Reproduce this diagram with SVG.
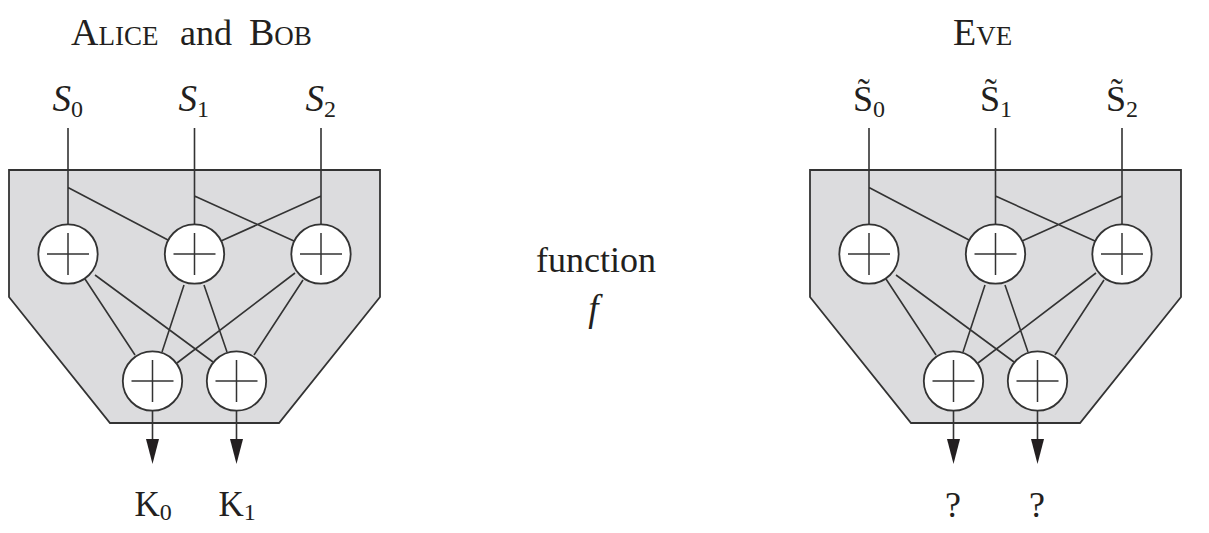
<svg xmlns="http://www.w3.org/2000/svg" width="1209" height="533" viewBox="0 0 1209 533">
<style>
text{font-family:"Liberation Serif","Times New Roman",serif;fill:#231f20;font-size:36px}
.sc{font-variant:small-caps;font-size:38px}
.s{font-style:italic;font-size:37px}
.u{font-size:36px}
.k{font-size:35px}
.sub{font-size:24px;font-style:normal}
.box{fill:#dcdcde;stroke:#333;stroke-width:1.8}
.ln{stroke:#333;stroke-width:1.6;fill:none}
.c{fill:#fff;stroke:#333;stroke-width:1.8}
.p{stroke:#333;stroke-width:1.5}
.h{fill:#231f20}
</style>
<defs>
<g id="xor"><circle class="c" r="29.7"/><path class="p" d="M-21 0H21M0-21V21"/></g>
<path id="head" class="h" d="M-6.500 0H6.500L0 25Z"/>
</defs>
<rect width="1209" height="533" fill="#fff"/>
<g id="title-left"><text class="sc" x="71" y="44.500">Alice</text><text x="180" y="44.500">and</text><text class="sc" x="249" y="44.500">Bob</text></g>
<g id="title-right"><text class="sc" x="953" y="44.500">Eve</text></g>
<g id="function-label"><text x="596" y="272" text-anchor="middle">function</text><text class="s" x="593.500" y="321" text-anchor="middle">f</text></g>

<g id="panel-left"><polygon class="box" points="9,170 380,170 380,297 279,423 110,423 9,297"/></g>
<g id="panel-right"><polygon class="box" points="810,170 1181,170 1181,297 1080,423 911,423 810,297"/></g>

<g id="connectors">
<path class="ln" d="M68 128V224M194.500 128V224M321 128V224M68 187.500L168 240M194.500 196L294 241M321 196L221 241"/>
<path class="ln" d="M85 279L135 355M95 275L213 362M184 285L162 352M204 285L227 352M295 273L177 363M303 280L254 355"/>
<path class="ln" d="M152.500 411V440M236.500 411V440"/>
<use href="#head" x="152.500" y="439"/><use href="#head" x="236.500" y="439"/>
<path class="ln" d="M869 128V224M995.500 128V224M1122 128V224M869 187.500L969 240M995.500 196L1095 241M1122 196L1022 241"/>
<path class="ln" d="M886 279L936 355M896 275L1014 362M985 285L963 352M1005 285L1028 352M1096 273L978 363M1104 280L1055 355"/>
<path class="ln" d="M953.500 411V440M1037.500 411V440"/>
<use href="#head" x="953.500" y="439"/><use href="#head" x="1037.500" y="439"/>
</g>

<g id="L-xor-a"><use href="#xor" x="68" y="254"/></g>
<g id="L-xor-b"><use href="#xor" x="194.500" y="254"/></g>
<g id="L-xor-c"><use href="#xor" x="321" y="254"/></g>
<g id="L-xor-d"><use href="#xor" x="152.500" y="381"/></g>
<g id="L-xor-e"><use href="#xor" x="236.500" y="381"/></g>
<g id="R-xor-a"><use href="#xor" x="869" y="254"/></g>
<g id="R-xor-b"><use href="#xor" x="995.500" y="254"/></g>
<g id="R-xor-c"><use href="#xor" x="1122" y="254"/></g>
<g id="R-xor-d"><use href="#xor" x="953.500" y="381"/></g>
<g id="R-xor-e"><use href="#xor" x="1037.500" y="381"/></g>

<g id="inputs-left">
<text class="s" x="52.500" y="111">S<tspan class="sub" dy="6">0</tspan></text>
<text class="s" x="178.500" y="111">S<tspan class="sub" dy="6">1</tspan></text>
<text class="s" x="305.500" y="111">S<tspan class="sub" dy="6">2</tspan></text>
</g>
<g id="inputs-right">
<text class="u" x="853" y="111">S̃<tspan class="sub" dy="6">0</tspan></text>
<text class="u" x="980" y="111">S̃<tspan class="sub" dy="6">1</tspan></text>
<text class="u" x="1106" y="111">S̃<tspan class="sub" dy="6">2</tspan></text>
</g>
<g id="outputs-left">
<text class="k" x="134.500" y="516">K<tspan class="sub" dy="4">0</tspan></text>
<text class="k" x="218.500" y="516">K<tspan class="sub" dy="4">1</tspan></text>
</g>
<g id="outputs-right">
<text x="953" y="517" text-anchor="middle">?</text>
<text x="1037" y="517" text-anchor="middle">?</text>
</g>
</svg>
